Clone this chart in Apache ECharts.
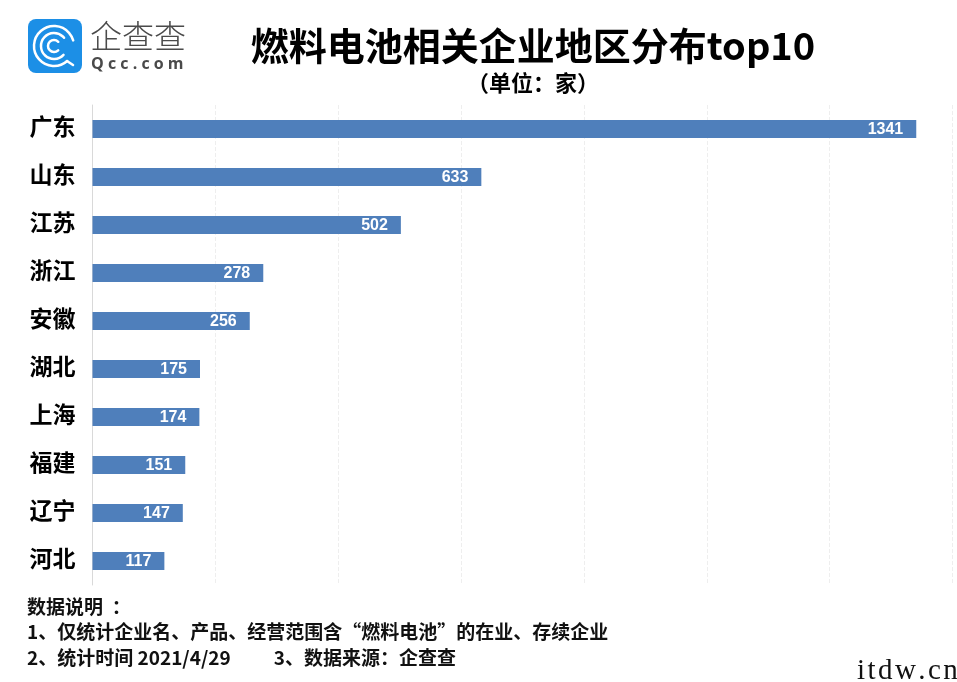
<!DOCTYPE html>
<html>
<head>
<meta charset="utf-8">
<title>燃料电池相关企业地区分布top10</title>
<style>
html, body { margin: 0; padding: 0; background: #fff; }
#chart { width: 957px; height: 682px; }
</style>
</head>
<body>
<div id="chart"></div>
<script src="https://cdn.jsdelivr.net/npm/echarts@6/dist/echarts.min.js"></script>
<script>
// 数据
const regions = ['广东', '山东', '江苏', '浙江', '安徽', '湖北', '上海', '福建', '辽宁', '河北'];
const counts = [1341, 633, 502, 278, 256, 175, 174, 151, 147, 117];
const noteLines = [
    '数据说明  ：',
    '1、仅统计企业名、产品、经营范围含“燃料电池”的在业、存续企业',
    '2、统计时间 2021/4/29          3、数据来源：企查查'
];

const cjk = '"Noto Sans CJK SC", sans-serif';
const chart = echarts.init(document.getElementById('chart'), null, { renderer: 'canvas' });

// 左上角 logo
function logoRing(r, start, end) {
    return {
        type: 'arc',
        shape: { cx: 54, cy: 46, r: r, startAngle: start, endAngle: end },
        style: { stroke: '#fff', lineWidth: 2.5, fill: null, lineCap: 'round' }
    };
}

const logo = [
    { type: 'rect', shape: { x: 28, y: 19, width: 54, height: 54, r: 8 }, style: { fill: '#1c8fe6' } },
    logoRing(20, 0.85, 6.0),
    logoRing(13, 0.75, 5.6),
    logoRing(6, 0.8, 5.5),
    { type: 'line', shape: { x1: 67, y1: 61, x2: 73, y2: 65 }, style: { stroke: '#fff', lineWidth: 2.5, lineCap: 'round' } },
    { type: 'text', x: 90, y: 36, style: { text: '企查查', font: '300 32px ' + cjk, fill: '#4a4a4a', textVerticalAlign: 'middle' } },
    { type: 'text', x: 91, y: 64, style: { text: 'Q c c . c o m', font: 'bold 16px "Open Sans", sans-serif', fill: '#4a4a4a', textVerticalAlign: 'middle' } }
];

const texts = [
    { type: 'text', x: 533, y: 46, style: { text: '燃料电池相关企业地区分布top10', font: 'bold 38px ' + cjk, fill: '#000', textAlign: 'center', textVerticalAlign: 'middle' } },
    { type: 'text', x: 533, y: 83, style: { text: '（单位：家）', font: 'bold 22px ' + cjk, fill: '#000', textAlign: 'center', textVerticalAlign: 'middle' } },
    { type: 'text', x: 857, y: 671, style: { text: 'i\u200At\u200Ad\u200Aw\u200A.\u200Ac\u200An', font: '29px "Liberation Serif", serif', fill: '#111', textVerticalAlign: 'middle' } }
];

noteLines.forEach((line, i) => {
    texts.push({
        type: 'text', x: 27, y: [607, 632, 658][i],
        style: { text: line, font: 'bold 19px ' + cjk, fill: '#111', textVerticalAlign: 'middle' }
    });
});

chart.setOption({
    animation: false,
    backgroundColor: '#fff',
    grid: { left: 92.5, top: 105, width: 860, height: 480, containLabel: false },
    xAxis: {
        type: 'value', min: 0, max: 1400, interval: 200,
        axisLabel: { show: false }, axisTick: { show: false }, axisLine: { show: false },
        splitLine: { show: true, lineStyle: { color: '#eeeeee', width: 1, type: 'dashed' } }
    },
    yAxis: {
        type: 'category', data: regions, inverse: true,
        axisTick: { show: false },
        axisLine: { show: true, lineStyle: { color: '#d9d9d9', width: 1 } },
        // 标签比柱子中心略高，用 bottom + 小行高上移
        axisLabel: { color: '#000', fontSize: 23, fontWeight: 'bold', fontFamily: cjk, margin: 17, verticalAlign: 'bottom', lineHeight: 6 }
    },
    series: [{
        type: 'bar', data: counts, barWidth: 18,
        itemStyle: { color: '#4f7fbb' },
        label: {
            show: true, position: 'insideRight', distance: 13, offset: [0, 1], color: '#fff',
            fontSize: 16, fontWeight: 'bold', fontFamily: '"Liberation Sans", Arial, sans-serif'
        }
    }],
    graphic: { elements: logo.concat(texts) }
});
</script>
</body>
</html>
